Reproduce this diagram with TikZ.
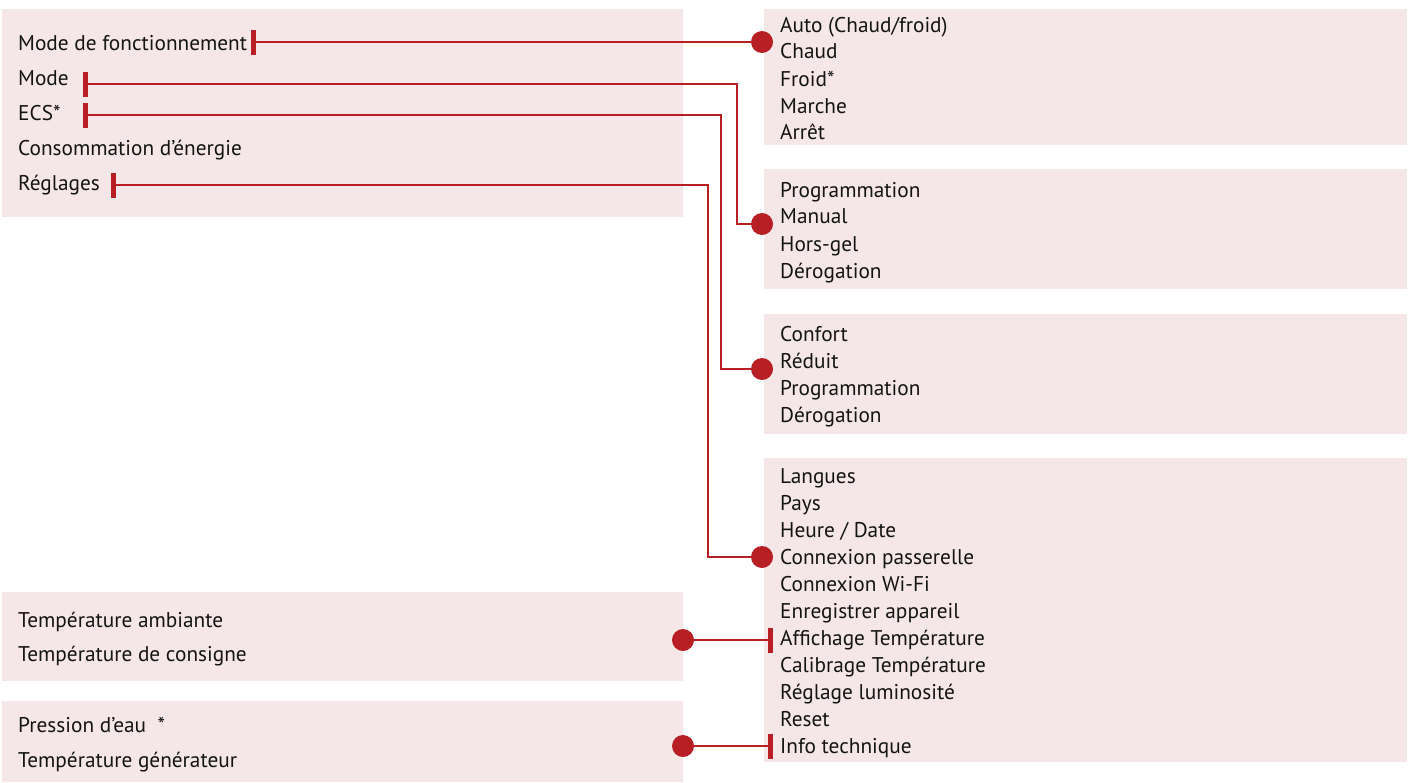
\documentclass[tikz,border=0pt]{standalone}
\usepackage{fontspec}
\setmainfont{PT Sans}
\definecolor{cred}{HTML}{B71F25}
\definecolor{cpink}{HTML}{F5E6E7}
\definecolor{ctext}{HTML}{141414}
\tikzset{
  box/.style={fill=cpink, draw=none},
  txt/.style={anchor=base west, inner sep=0pt, font=\fontsize{21.3}{25}\selectfont, text=ctext},
  dot/.style={circle, fill=cred, minimum size=22pt, inner sep=0pt},
  bar/.style={rectangle, fill=cred, minimum width=5pt, minimum height=25pt, inner sep=0pt},
  link/.style={draw=cred, line width=2.8pt},
}
\begin{document}
\begin{tikzpicture}[x=1pt,y=-1pt]
\useasboundingbox (0,0) rectangle (1411,782);
% boxes
\fill[box] (2,9) rectangle (683,217);
\fill[box] (764,9) rectangle (1407,145);
\fill[box] (764,169) rectangle (1407,289);
\fill[box] (764,314) rectangle (1407,434);
\fill[box] (764,458) rectangle (1407,762);
\fill[box] (2,592) rectangle (683,681);
\fill[box] (2,701) rectangle (683,782);
% left texts
\node[txt] (l1) at (18,50) {Mode de fonctionnement};
\node[txt] (l2) at (18,85) {Mode};
\node[txt] (l3) at (18,120) {ECS*};
\node[txt] (l4) at (18,155) {Consommation d’énergie};
\node[txt] (l5) at (18,190) {Réglages};
\node[txt] (t1) at (18,627) {Température ambiante};
\node[txt] (t2) at (18,661) {Température de consigne};
\node[txt] (p1) at (18,732) {Pression d’eau\ \ *};
\node[txt] (p2) at (18,767) {Température générateur};
% right texts box 1
\node[txt] (a1) at (780,32) {Auto (Chaud/froid)};
\node[txt] (a2) at (780,58) {Chaud};
\node[txt] (a3) at (780,86) {Froid*};
\node[txt] (a4) at (780,113) {Marche};
\node[txt] (a5) at (780,139) {Arrêt};
% box 2
\node[txt] (m1) at (780,197) {Programmation};
\node[txt] (m2) at (780,223) {Manual};
\node[txt] (m3) at (780,251) {Hors-gel};
\node[txt] (m4) at (780,278) {Dérogation};
% box 3
\node[txt] (e1) at (780,341) {Confort};
\node[txt] (e2) at (780,368) {Réduit};
\node[txt] (e3) at (780,395) {Programmation};
\node[txt] (e4) at (780,422) {Dérogation};
% box 4
\node[txt] (r1) at (780,483) {Langues};
\node[txt] (r2) at (780,510) {Pays};
\node[txt] (r3) at (780,537) {Heure / Date};
\node[txt] (r4) at (780,564) {Connexion passerelle};
\node[txt] (r5) at (780,591) {Connexion Wi-Fi};
\node[txt] (r6) at (780,618) {Enregistrer appareil};
\node[txt] (r7) at (780,645) {Affichage Température};
\node[txt] (r8) at (780,672) {Calibrage Température};
\node[txt] (r9) at (780,699) {Réglage luminosité};
\node[txt] (r10) at (780,726) {Reset};
\node[txt] (r11) at (780,753) {Info technique};
% bars
\node[bar] (b1) at (253,42) {};
\node[bar] (b2) at (85,84) {};
\node[bar] (b3) at (85,115) {};
\node[bar] (b4) at (113,185) {};
\node[bar] (b5) at (770,640) {};
\node[bar] (b6) at (770,746) {};
% dots
\node[dot] (d1) at (762,42) {};
\node[dot] (d2) at (762,224) {};
\node[dot] (d3) at (762,369) {};
\node[dot] (d4) at (762,557) {};
\node[dot] (d5) at (683,640) {};
\node[dot] (d6) at (683,746) {};
% bends
\coordinate (k2) at (737,84);
\coordinate (k3) at (721,115);
\coordinate (k4) at (708,185);
% links
\draw[link] (b1.center) -- (d1.center);
\draw[link] (b2.center) -- (k2) |- (d2.center);
\draw[link] (b3.center) -- (k3) |- (d3.center);
\draw[link] (b4.center) -- (k4) |- (d4.center);
\draw[link] (d5.center) -- (b5.center);
\draw[link] (d6.center) -- (b6.center);
\end{tikzpicture}
\end{document}
